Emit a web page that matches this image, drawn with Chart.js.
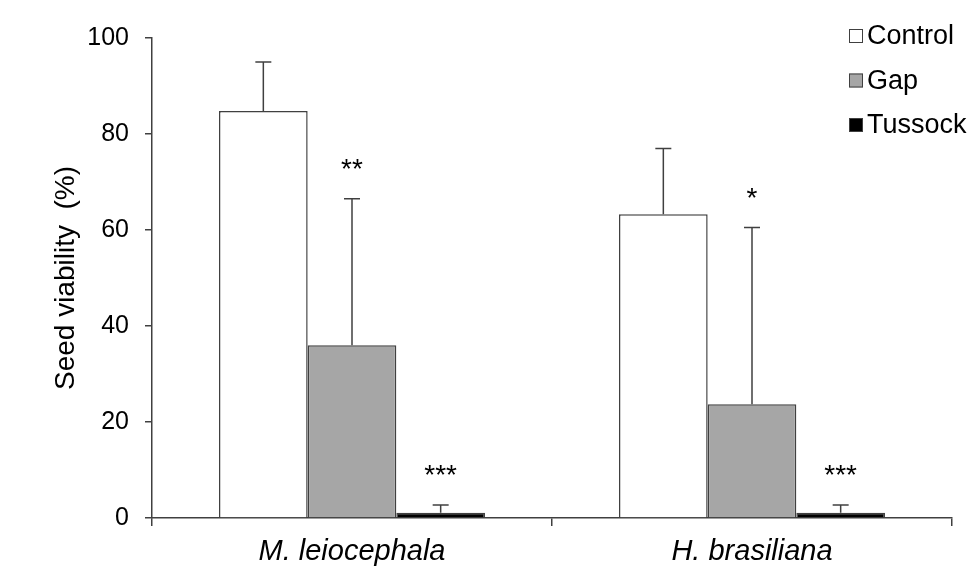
<!DOCTYPE html>
<html>
<head>
<meta charset="utf-8">
<script src="https://cdn.jsdelivr.net/npm/chart.js"></script>
<style>
  html, body { margin: 0; padding: 0; background: #fff; }
  #wrap { width: 971px; height: 585px; }
</style>
</head>
<body>
<div id="wrap"><canvas id="myChart" width="971" height="585"></canvas></div>
<script>
// data
const categories = ['M. leiocephala', 'H. brasiliana'];
const seriesNames = ['Control', 'Gap', 'Tussock'];
const control = [84.8, 63.3];
const gap = [36.0, 23.7];
const tussock = [1.1, 1.1];
const controlErr = [95.0, 77.0];
const gapErr = [66.5, 60.5];
const tussockErr = [2.7, 2.7];
const controlStars = ['', ''];
const gapStars = ['**', '*'];
const tussockStars = ['***', '***'];
const yTicks = [0, 20, 40, 60, 80, 100];

const axisColor = '#404040';
const fills = ['#ffffff', '#a6a6a6', '#000000'];
const FONT = '"Liberation Sans", Arial, sans-serif';

const errorBars = {
  id: 'errorBars',
  afterDatasetsDraw(chart) {
    const ctx = chart.ctx;
    const y = chart.scales.y;
    ctx.save();
    chart.data.datasets.forEach((ds, i) => {
      const meta = chart.getDatasetMeta(i);
      meta.data.forEach((bar, j) => {
        const top = y.getPixelForValue(ds.data[j]);
        const errTop = y.getPixelForValue(ds.errTop[j]);
        ctx.strokeStyle = axisColor;
        ctx.lineWidth = 1.5;
        ctx.beginPath();
        ctx.moveTo(bar.x, top);
        ctx.lineTo(bar.x, errTop);
        ctx.moveTo(bar.x - 8, errTop);
        ctx.lineTo(bar.x + 8, errTop);
        ctx.stroke();
        if (ds.stars[j]) {
          ctx.fillStyle = '#000';
          ctx.font = '28px ' + FONT;
          ctx.textAlign = 'center';
          ctx.textBaseline = 'alphabetic';
          ctx.fillText(ds.stars[j], bar.x, errTop - 21);
        }
      });
    });
    ctx.restore();
  }
};

const sideLegend = {
  id: 'sideLegend',
  afterDraw(chart) {
    const ctx = chart.ctx;
    ctx.save();
    ctx.font = '27px ' + FONT;
    ctx.textBaseline = 'middle';
    ctx.textAlign = 'left';
    chart.data.datasets.forEach((ds, i) => {
      const cy = 36 + i * 44.5;
      ctx.fillStyle = ds.backgroundColor;
      ctx.fillRect(849, cy - 7, 14, 14);
      ctx.strokeStyle = axisColor;
      ctx.lineWidth = 1;
      ctx.strokeRect(849.5, cy - 6.5, 13, 13);
      ctx.fillStyle = '#000';
      ctx.fillText(ds.label, 867, cy + 1);
    });
    ctx.restore();
  }
};

const data = {
  labels: categories,
  datasets: [
    { label: seriesNames[0], data: control, errTop: controlErr, stars: controlStars },
    { label: seriesNames[1], data: gap, errTop: gapErr, stars: gapStars },
    { label: seriesNames[2], data: tussock, errTop: tussockErr, stars: tussockStars }
  ].map((d, i) => Object.assign(d, {
    backgroundColor: fills[i],
    borderColor: axisColor,
    borderWidth: 1.5,
    categoryPercentage: 0.665,
    barPercentage: 1.0
  }))
};

const config = {
  type: 'bar',
  data,
  plugins: [errorBars, sideLegend],
  options: {
    responsive: false,
    animation: false,
    layout: { padding: { top: 38, right: 19, left: 0, bottom: 0 } },
    plugins: { legend: { display: false }, tooltip: { enabled: false } },
    scales: {
      x: {
        offset: true,
        grid: { offset: true, drawOnChartArea: false, drawTicks: true, tickLength: 8, color: axisColor, lineWidth: 1.5 },
        border: { color: axisColor, width: 1.5 },
        ticks: {
          color: '#000',
          padding: 9,
          font: { family: FONT, size: 29, style: 'italic' }
        },
        afterFit: s => { s.height = 585 - 518; }
      },
      y: {
        min: 0,
        max: 100,
        afterBuildTicks: s => { s.ticks = yTicks.map(v => ({ value: v })); },
        grid: { drawOnChartArea: false, tickLength: 7, color: axisColor, lineWidth: 1.5 },
        border: { color: axisColor, width: 1.5 },
        ticks: {
          color: '#000',
          padding: 16,
          font: { family: FONT, size: 25 }
        },
        title: {
          display: true,
          text: 'Seed viability  (%)',
          color: '#000',
          padding: { top: 49, bottom: 0 },
          font: { family: FONT, size: 28 }
        },
        afterFit: s => { s.width = 152; }
      }
    }
  }
};

new Chart(document.getElementById('myChart'), config);
</script>
</body>
</html>
